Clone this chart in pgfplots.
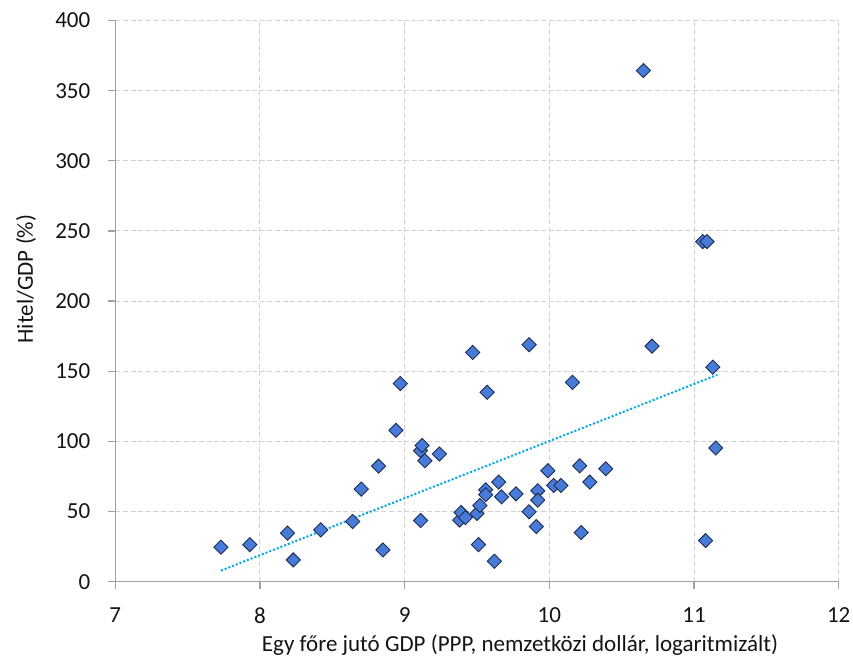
\documentclass[border=0pt]{standalone}
\usepackage{pgfplots}
\pgfplotsset{compat=1.18}
\usepackage{fontspec}
\setmainfont{Carlito}
\definecolor{mk}{RGB}{72,123,217}
\definecolor{mkedge}{RGB}{31,45,80}
\definecolor{trend}{RGB}{0,168,232}
\definecolor{gridc}{RGB}{210,210,210}
\definecolor{axc}{RGB}{160,160,160}
\definecolor{txt}{RGB}{20,20,20}
\begin{document}
\begin{tikzpicture}
\begin{axis}[
  scale only axis,
  width=361.7pt, height=280.6pt,
  xmin=7, xmax=12, ymin=0, ymax=400,
  xtick={7,8,...,12}, ytick={0,50,...,400},
  axis x line=bottom, axis y line=left,
  axis line style={color=axc, line width=0.6pt, -},
  tick align=outside,
  major tick length=3.5pt,
  tick style={color=axc, line width=0.6pt},
  grid=major,
  major grid style={color=gridc, line width=0.5pt, dash pattern=on 2.5pt off 1.3pt},
  /pgf/number format/assume math mode=true,
  ticklabel style={font=\fontsize{11.5}{14}\selectfont, text=txt},
  yticklabel style={anchor=east, inner sep=0pt, xshift=-8.8pt},
  xticklabel style={anchor=north, inner sep=0pt, yshift=-9.3pt},
  xlabel={Egy főre jutó GDP (PPP, nemzetközi dollár, logaritmizált)},
  ylabel={Hitel/GDP (\%)},
  label style={font=\fontsize{11.5}{14}\selectfont, text=txt},
  xlabel style={at={(rel axis cs:0.5594,0)}, anchor=base, yshift=-35pt},
  ylabel style={at={(rel axis cs:0,0.5394)}, anchor=base, yshift=41.15pt},
  clip=false,
]
\addplot[trend, line width=1pt, dash pattern=on 1pt off 1pt] coordinates {(7.73,7.9) (11.16,147.4)};
\addplot[only marks, mark=square*, mark size=2.5pt, mark options={rotate=45, fill=mk, draw=mkedge, line width=0.45pt}] coordinates {
(7.73,24.6) (7.93,26.4) (8.19,34.6) (8.23,15.5) (8.42,36.9) (8.64,42.9)
(8.70,66) (8.82,82.4) (8.85,22.6) (8.94,107.9) (8.97,141.2) (9.11,43.6)
(9.11,93.4) (9.12,97.1) (9.14,86.2) (9.24,91) (9.38,43.9) (9.39,49.3)
(9.42,45.7) (9.47,163.4) (9.50,48.6) (9.51,26.4) (9.52,54.3) (9.56,65.5)
(9.56,62) (9.57,135) (9.62,14.6) (9.65,71) (9.67,60.5) (9.77,62.6)
(9.86,168.9) (9.86,49.8) (9.91,39.3) (9.92,64.8) (9.92,58.1) (9.99,79.1)
(10.03,68.6) (10.08,68.6) (10.16,142.1) (10.21,82.6) (10.22,35) (10.28,71)
(10.39,80.5) (10.65,364.3) (10.71,167.9) (11.06,242.4) (11.09,242.4) (11.08,29.3)
(11.13,152.9) (11.15,95.3)
};
\coordinate (sw) at (rel axis cs:0,0);
\coordinate (ne) at (rel axis cs:1,1);
\end{axis}
\pgfresetboundingbox
\path ([shift={(-57.65pt,-39.15pt)}]sw) rectangle ([shift={(7.15pt,10.25pt)}]ne);
\end{tikzpicture}
\end{document}
